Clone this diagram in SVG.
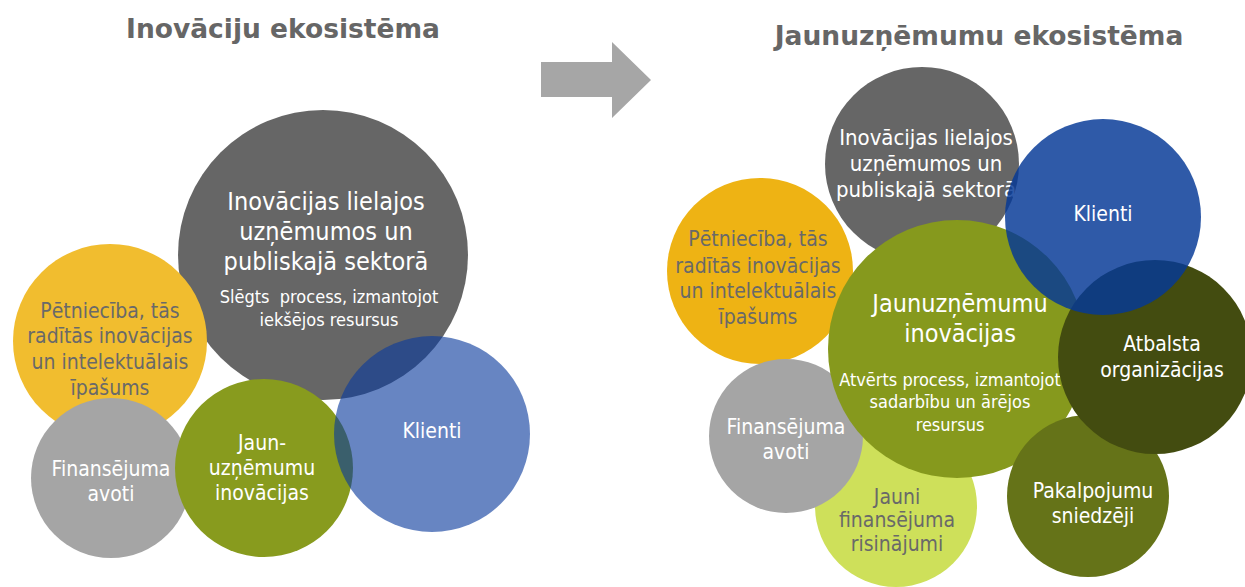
<svg xmlns="http://www.w3.org/2000/svg" width="1245" height="587" viewBox="0 0 1245 587">
<style>
text{font-family:"DejaVu Sans Condensed","DejaVu Sans",sans-serif;font-stretch:condensed;text-anchor:middle}
.title{font-family:"DejaVu Sans","Liberation Sans",sans-serif;font-stretch:normal;font-weight:bold;font-size:26.5px;fill:#666666}
.w{fill:#ffffff}
.g{fill:#696969}
.b21{font-size:21px}
.b25{font-size:25px}
.b22{font-size:22px}
.s18{font-size:18px}
</style>
<rect width="1245" height="587" fill="#ffffff"/>
<text class="title" x="283" y="38">Inovāciju ekosistēma</text>
<text class="title" x="979" y="45">Jaunuzņēmumu ekosistēma</text>
<g id="arrow">
<polygon points="541,62 612,62 612,42 651,80 612,118 612,97 541,97" fill="#a6a6a6"/>
</g>
<g id="left">
<g id="l-large">
<circle cx="323" cy="255" r="145" fill="#666666"/>
<text class="w b25" x="326" y="210">Inovācijas lielajos</text>
<text class="w b25" x="326" y="240">uzņēmumos un</text>
<text class="w b25" x="326" y="270">publiskajā sektorā</text>
<text class="w s18" x="329" y="303" xml:space="preserve">Slēgts  process, izmantojot</text>
<text class="w s18" x="329" y="326">iekšējos resursus</text>
</g>
<g id="l-research">
<circle cx="110" cy="341" r="97" fill="#f1bd2f"/>
<text class="g b21" x="110" y="318">Pētniecība, tās</text>
<text class="g b21" x="110" y="343">radītās inovācijas</text>
<text class="g b21" x="110" y="369">un intelektuālais</text>
<text class="g b21" x="110" y="395">īpašums</text>
</g>
<g id="l-finance">
<circle cx="111" cy="478" r="80" fill="#a5a5a5"/>
<text class="w b21" x="111" y="476">Finansējuma</text>
<text class="w b21" x="111" y="501">avoti</text>
</g>
<g id="l-startup">
<circle cx="264" cy="468" r="89" fill="#889b1e"/>
<text class="w b21" x="262" y="450">Jaun-</text>
<text class="w b21" x="262" y="475">uzņēmumu</text>
<text class="w b21" x="262" y="500">inovācijas</text>
</g>
<g id="l-clients">
<circle cx="432" cy="434" r="98" fill="#0a3a9c" fill-opacity="0.62"/>
<text class="w b21" x="432" y="438">Klienti</text>
</g>
</g>
<g id="right">
<g id="r-large">
<circle cx="922" cy="164" r="97" fill="#666666"/>
<text class="w b22" x="926" y="145">Inovācijas lielajos</text>
<text class="w b22" x="926" y="171">uzņēmumos un</text>
<text class="w b22" x="926" y="197">publiskajā sektorā</text>
</g>
<g id="r-research">
<circle cx="760" cy="271" r="93" fill="#eeb314"/>
<text class="g b21" x="758" y="246">Pētniecība, tās</text>
<text class="g b21" x="758" y="273">radītās inovācijas</text>
<text class="g b21" x="758" y="298">un intelektuālais</text>
<text class="g b21" x="758" y="324">īpašums</text>
</g>
<g id="r-newfinance">
<circle cx="896" cy="506" r="81" fill="#cee05a"/>
<text class="g b21" x="897" y="504">Jauni</text>
<text class="g b21" x="897" y="527">finansējuma</text>
<text class="g b21" x="897" y="551">risinājumi</text>
</g>
<g id="r-finance">
<circle cx="786" cy="436" r="77" fill="#a5a5a5"/>
<text class="w b21" x="786" y="434">Finansējuma</text>
<text class="w b21" x="786" y="459">avoti</text>
</g>
<g id="r-startup">
<circle cx="957" cy="349" r="129" fill="#86991d"/>
<text class="w b25" x="960" y="312">Jaunuzņēmumu</text>
<text class="w b25" x="960" y="342">inovācijas</text>
<text class="w s18" x="950" y="386">Atvērts process, izmantojot</text>
<text class="w s18" x="950" y="408">sadarbību un ārējos</text>
<text class="w s18" x="950" y="431">resursus</text>
</g>
<g id="r-services">
<circle cx="1088" cy="496" r="81" fill="#657318"/>
<text class="w b21" x="1093" y="498">Pakalpojumu</text>
<text class="w b21" x="1093" y="523">sniedzēji</text>
</g>
<g id="r-support">
<circle cx="1155" cy="357" r="97" fill="#434c10"/>
<text class="w b21" x="1162" y="351">Atbalsta</text>
<text class="w b21" x="1162" y="377">organizācijas</text>
</g>
<g id="r-clients">
<circle cx="1103" cy="217" r="98" fill="#053996" fill-opacity="0.83"/>
<text class="w b21" x="1103" y="221">Klienti</text>
</g>
</g>
</svg>
